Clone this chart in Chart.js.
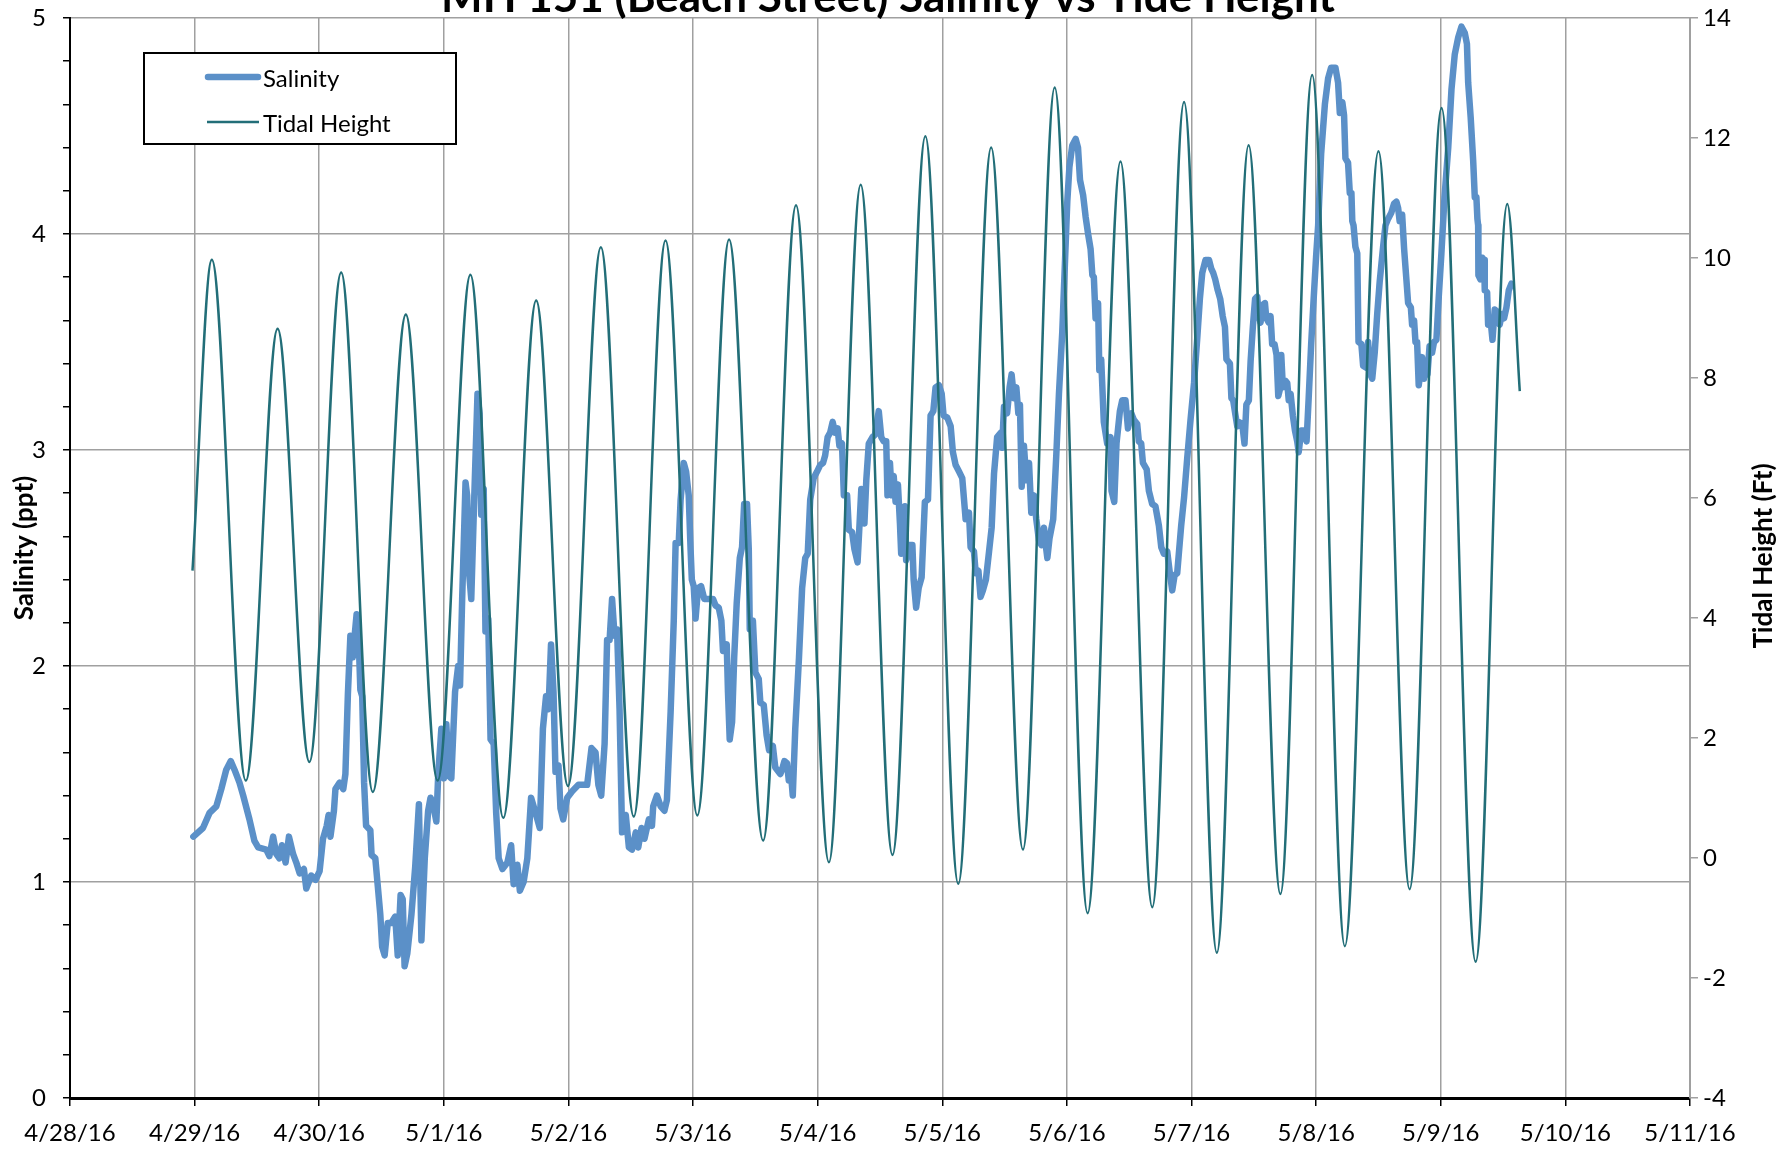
<!DOCTYPE html>
<html>
<head>
<meta charset="utf-8">
<script src="https://cdn.jsdelivr.net/npm/chart.js@4.4.1/dist/chart.umd.min.js"></script>
<style>
  html, body { margin: 0; padding: 0; background: #fff; }
  #wrap { position: absolute; left: 0; top: 0; width: 1779px; height: 1149px; }
</style>
</head>
<body>
<div id="wrap"><canvas id="chart" width="1779" height="1149"></canvas></div>
<script>
// x axis: days since 4/28/16
const dateLabels = ['4/28/16','4/29/16','4/30/16','5/1/16','5/2/16','5/3/16','5/4/16','5/5/16','5/6/16','5/7/16','5/8/16','5/9/16','5/10/16','5/11/16'];

// Salinity (ppt)
const salDays = [0.99,1.067,1.12,1.174,1.214,1.254,1.29,1.32,1.36,1.39,1.44,1.48,1.51,1.575,1.60,1.63,1.655,1.68,1.70,1.73,1.757,1.79,1.816,1.843,1.877,1.896,1.936,1.971,2.003,2.03,2.06,2.075,2.09,2.118,2.13,2.164,2.193,2.21,2.23,2.25,2.27,2.284,2.30,2.318,2.33,2.345,2.36,2.376,2.41,2.42,2.45,2.47,2.49,2.505,2.525,2.55,2.578,2.61,2.63,2.653,2.67,2.685,2.707,2.74,2.77,2.80,2.82,2.847,2.874,2.893,2.91,2.94,2.955,2.98,3.0,3.02,3.04,3.06,3.09,3.115,3.13,3.147,3.174,3.187,3.20,3.22,3.243,3.27,3.286,3.30,3.32,3.334,3.356,3.375,3.40,3.42,3.44,3.47,3.51,3.54,3.56,3.59,3.61,3.64,3.67,3.70,3.736,3.77,3.795,3.82,3.84,3.86,3.88,3.896,3.92,3.936,3.958,3.99,4.03,4.08,4.15,4.185,4.217,4.24,4.263,4.29,4.31,4.33,4.35,4.37,4.39,4.41,4.43,4.46,4.485,4.51,4.54,4.56,4.586,4.61,4.645,4.67,4.68,4.71,4.74,4.77,4.79,4.82,4.845,4.86,4.885,4.90,4.925,4.944,4.965,4.98,4.99,5.005,5.02,5.04,5.064,5.09,5.126,5.16,5.18,5.206,5.227,5.24,5.27,5.28,5.294,5.313,5.33,5.35,5.375,5.393,5.41,5.433,5.447,5.455,5.48,5.50,5.527,5.54,5.567,5.59,5.61,5.64,5.66,5.70,5.714,5.733,5.754,5.768,5.79,5.80,5.82,5.85,5.875,5.90,5.92,5.94,5.968,5.995,6.02,6.043,6.06,6.08,6.10,6.12,6.14,6.16,6.174,6.195,6.21,6.236,6.25,6.276,6.295,6.32,6.337,6.35,6.375,6.39,6.41,6.44,6.46,6.49,6.51,6.53,6.55,6.56,6.58,6.594,6.61,6.625,6.644,6.66,6.67,6.70,6.71,6.73,6.76,6.77,6.79,6.81,6.834,6.86,6.885,6.906,6.928,6.946,6.973,6.995,7.01,7.04,7.067,7.085,7.107,7.134,7.16,7.18,7.187,7.214,7.227,7.254,7.268,7.29,7.307,7.326,7.35,7.375,7.396,7.415,7.44,7.47,7.48,7.495,7.52,7.54,7.556,7.575,7.594,7.61,7.623,7.637,7.655,7.674,7.696,7.714,7.736,7.754,7.776,7.795,7.816,7.83,7.843,7.86,7.89,7.915,7.936,7.963,7.985,8.003,8.02,8.043,8.07,8.089,8.105,8.13,8.15,8.17,8.19,8.204,8.216,8.23,8.25,8.26,8.275,8.296,8.323,8.35,8.358,8.38,8.398,8.425,8.444,8.47,8.49,8.516,8.537,8.564,8.577,8.596,8.61,8.64,8.658,8.684,8.71,8.738,8.757,8.778,8.805,8.826,8.845,8.864,8.885,8.898,8.917,8.94,8.965,8.992,9.02,9.045,9.067,9.086,9.112,9.14,9.158,9.174,9.19,9.21,9.23,9.25,9.268,9.28,9.308,9.32,9.334,9.353,9.367,9.38,9.407,9.425,9.44,9.46,9.474,9.492,9.51,9.527,9.54,9.554,9.567,9.589,9.60,9.62,9.634,9.647,9.666,9.682,9.696,9.709,9.72,9.733,9.754,9.768,9.78,9.795,9.813,9.83,9.848,9.86,9.88,9.90,9.923,9.94,9.96,9.98,10.0,10.016,10.04,10.07,10.096,10.12,10.155,10.176,10.19,10.21,10.224,10.235,10.256,10.27,10.283,10.29,10.30,10.315,10.33,10.34,10.363,10.377,10.403,10.417,10.435,10.45,10.47,10.49,10.51,10.537,10.556,10.577,10.604,10.625,10.644,10.658,10.67,10.69,10.706,10.724,10.738,10.76,10.77,10.786,10.797,10.81,10.823,10.84,10.85,10.866,10.877,10.893,10.91,10.93,10.946,10.965,10.984,11.005,11.03,11.06,11.086,11.112,11.14,11.166,11.193,11.21,11.22,11.24,11.26,11.273,11.286,11.294,11.30,11.302,11.318,11.334,11.348,11.353,11.372,11.38,11.40,11.415,11.433,11.455,11.473,11.49,11.508,11.527,11.546,11.567];
const salValues = [1.21,1.25,1.32,1.35,1.43,1.52,1.56,1.52,1.46,1.40,1.29,1.19,1.16,1.15,1.12,1.21,1.13,1.11,1.17,1.09,1.21,1.13,1.09,1.04,1.06,0.97,1.03,1.01,1.05,1.20,1.26,1.31,1.21,1.33,1.43,1.46,1.43,1.50,1.87,2.14,2.04,2.14,2.24,2.10,1.89,1.86,1.46,1.26,1.24,1.125,1.11,0.98,0.85,0.70,0.66,0.81,0.81,0.84,0.66,0.94,0.92,0.61,0.67,0.85,1.07,1.36,0.73,1.11,1.33,1.39,1.37,1.28,1.50,1.71,1.48,1.73,1.49,1.48,1.88,2.00,1.91,2.31,2.85,2.79,2.45,2.31,2.76,3.26,3.17,2.70,2.82,2.16,2.22,1.66,1.64,1.32,1.11,1.06,1.09,1.17,0.99,1.08,0.96,1.00,1.11,1.39,1.32,1.25,1.71,1.86,1.80,2.10,1.88,1.51,1.54,1.34,1.29,1.39,1.42,1.45,1.45,1.62,1.60,1.45,1.40,1.64,2.12,2.12,2.31,2.14,2.17,1.80,1.23,1.31,1.16,1.15,1.23,1.16,1.25,1.20,1.29,1.26,1.35,1.40,1.35,1.33,1.38,1.79,2.21,2.57,2.57,2.77,2.94,2.90,2.79,2.54,2.40,2.37,2.22,2.36,2.37,2.31,2.31,2.31,2.28,2.27,2.21,2.07,2.10,1.88,1.66,1.74,2.04,2.29,2.50,2.55,2.75,2.75,2.54,2.17,2.21,1.97,1.94,1.83,1.82,1.68,1.61,1.63,1.53,1.50,1.52,1.56,1.55,1.47,1.47,1.40,1.71,2.04,2.36,2.50,2.52,2.77,2.87,2.90,2.93,2.94,2.975,3.06,3.08,3.13,3.08,3.10,3.02,3.03,2.79,2.79,2.63,2.62,2.54,2.48,2.67,2.82,2.66,2.86,3.03,3.06,3.07,3.18,3.06,3.04,3.04,2.79,2.94,2.79,2.88,2.76,2.84,2.66,2.52,2.74,2.49,2.56,2.56,2.40,2.27,2.36,2.41,2.76,2.77,3.16,3.18,3.29,3.30,3.26,3.16,3.15,3.11,2.99,2.93,2.90,2.87,2.73,2.68,2.71,2.55,2.53,2.43,2.44,2.32,2.35,2.40,2.53,2.64,2.89,3.06,3.08,3.01,3.20,3.17,3.29,3.35,3.24,3.29,3.17,3.21,2.83,3.02,2.86,2.94,2.71,2.79,2.68,2.58,2.56,2.64,2.56,2.50,2.59,2.68,2.98,3.26,3.55,3.88,4.15,4.31,4.41,4.44,4.40,4.25,4.18,4.08,4.00,3.93,3.81,3.80,3.61,3.68,3.37,3.42,3.13,3.03,3.06,2.81,2.76,3.03,3.18,3.23,3.23,3.10,3.17,3.14,3.12,3.04,3.03,2.94,2.91,2.81,2.75,2.74,2.65,2.55,2.52,2.53,2.43,2.35,2.42,2.43,2.52,2.65,2.78,2.96,3.14,3.31,3.51,3.70,3.82,3.88,3.88,3.84,3.82,3.79,3.74,3.70,3.62,3.57,3.42,3.40,3.24,3.23,3.16,3.11,3.13,3.12,3.03,3.21,3.23,3.41,3.57,3.70,3.71,3.62,3.59,3.67,3.68,3.61,3.59,3.62,3.49,3.49,3.44,3.25,3.28,3.44,3.29,3.32,3.31,3.23,3.26,3.16,3.09,3.04,2.99,3.09,3.09,3.04,3.24,3.49,3.70,3.90,4.04,4.37,4.60,4.72,4.77,4.77,4.70,4.56,4.61,4.55,4.35,4.33,4.19,4.19,4.06,4.04,3.94,3.91,3.50,3.49,3.39,3.38,3.50,3.35,3.33,3.45,3.63,3.78,3.94,4.04,4.07,4.10,4.14,4.15,4.12,4.06,4.09,3.93,3.79,3.68,3.66,3.58,3.60,3.50,3.50,3.30,3.37,3.43,3.33,3.38,3.35,3.48,3.45,3.50,3.51,3.71,3.91,4.17,4.40,4.67,4.83,4.91,4.96,4.93,4.88,4.70,4.54,4.34,4.17,4.17,4.07,4.04,3.81,3.79,3.89,3.88,3.74,3.73,3.58,3.60,3.51,3.65,3.64,3.58,3.63,3.61,3.66,3.74,3.77];

// Tidal height (ft), highs and lows
const tideDays = [0.983,1.138,1.411,1.666,1.921,2.176,2.43,2.695,2.95,3.213,3.477,3.741,3.996,4.26,4.524,4.779,5.034,5.289,5.562,5.826,6.09,6.345,6.6,6.864,7.128,7.392,7.647,7.902,8.166,8.43,8.685,8.94,9.203,9.458,9.713,9.968,10.23,10.5,10.75,11.006,11.28,11.534,11.634];
const tideValues = [4.79,9.97,1.29,8.82,1.6,9.76,1.1,9.06,1.29,9.72,0.67,9.29,1.2,10.18,0.69,10.29,0.71,10.31,0.29,10.88,-0.07,11.22,0.05,12.03,-0.43,11.84,0.14,12.84,-0.92,11.61,-0.82,12.6,-1.58,11.88,-0.6,13.05,-1.47,11.78,-0.52,12.5,-1.73,10.9,7.78];

const SAL_COLOR = '#5B90C8';
const TIDE_COLOR = '#226E78';
const GRID = '#A0A0A0';
const FONT = 'Lato';

// titre, legende, titres d'axes
const decorPlugin = {
  id: 'decor',
  afterDraw(chart) {
    const ctx = chart.ctx;
    ctx.save();
    // titre (coupe en haut)
    ctx.fillStyle = '#000';
    ctx.font = 'bold 44px ' + FONT;
    ctx.textAlign = 'center';
    ctx.textBaseline = 'alphabetic';
    ctx.fillText('MH 151 (Beach Street) Salinity vs Tide Height', 888, 12);

    // titres d'axes
    ctx.font = 'bold 26px ' + FONT;
    ctx.textBaseline = 'middle';
    ctx.save();
    ctx.translate(25, 548);
    ctx.rotate(-Math.PI / 2);
    ctx.fillText('Salinity (ppt)', 0, 0);
    ctx.restore();
    ctx.save();
    ctx.translate(1764, 556);
    ctx.rotate(-Math.PI / 2);
    ctx.fillText('Tidal Height (Ft)', 0, 0);
    ctx.restore();

    // legende
    ctx.fillStyle = '#fff';
    ctx.fillRect(144, 53, 312, 91);
    ctx.strokeStyle = '#000';
    ctx.lineWidth = 2;
    ctx.strokeRect(144, 53, 312, 91);
    ctx.lineCap = 'round';
    ctx.strokeStyle = SAL_COLOR;
    ctx.lineWidth = 6.5;
    ctx.beginPath(); ctx.moveTo(208, 77); ctx.lineTo(258, 77); ctx.stroke();
    ctx.strokeStyle = TIDE_COLOR;
    ctx.lineWidth = 2.5;
    ctx.lineCap = 'butt';
    ctx.beginPath(); ctx.moveTo(207, 122); ctx.lineTo(259, 122); ctx.stroke();
    ctx.fillStyle = '#000';
    ctx.font = '24px ' + FONT;
    ctx.textAlign = 'left';
    ctx.fillText('Salinity', 263, 79);
    ctx.fillText('Tidal Height', 263, 124);
    ctx.restore();
  }
};

// largeurs d'axes fixes pour caler la zone de trace
function fixWidth(w) {
  return (scale) => {
    scale.width = w;
    scale.paddingTop = 0;
    scale.paddingBottom = 0;
  };
}

const ctx = document.getElementById('chart').getContext('2d');
new Chart(ctx, {
  type: 'line',
  data: {
    datasets: [
      {
        label: 'Salinity',
        data: salDays.map((d, i) => ({ x: d, y: salValues[i] })),
        borderColor: SAL_COLOR,
        backgroundColor: SAL_COLOR,
        borderWidth: 6.5,
        borderJoinStyle: 'round',
        borderCapStyle: 'round',
        pointRadius: 0,
        tension: 0,
        yAxisID: 'y',
        order: 2
      },
      {
        label: 'Tidal Height',
        data: tideDays.map((d, i) => ({ x: d, y: tideValues[i] })),
        borderColor: TIDE_COLOR,
        backgroundColor: TIDE_COLOR,
        borderWidth: 2.5,
        pointRadius: 0,
        cubicInterpolationMode: 'monotone',
        yAxisID: 'y2',
        order: 1
      }
    ]
  },
  options: {
    responsive: false,
    animation: false,
    devicePixelRatio: 1,
    layout: { padding: { top: 18, left: 0, right: 0, bottom: 0 } },
    plugins: {
      legend: { display: false },
      tooltip: { enabled: false },
      title: { display: false }
    },
    scales: {
      x: {
        type: 'linear',
        min: 0,
        max: 13,
        afterFit(scale) { scale.height = 51; scale.paddingLeft = 0; scale.paddingRight = 0; },
        ticks: {
          stepSize: 1,
          autoSkip: false,
          maxRotation: 0,
          padding: 13,
          color: '#000',
          font: { family: FONT, size: 24 },
          callback: (v) => dateLabels[v]
        },
        grid: { color: GRID, lineWidth: 1.5, tickColor: '#000', tickLength: 8 },
        border: { color: '#000', width: 3 }
      },
      y: {
        position: 'left',
        min: 0,
        max: 5,
        afterFit: fixWidth(70),
        ticks: {
          stepSize: 0.2,
          autoSkip: false,
          padding: 17,
          color: '#000',
          font: { family: FONT, size: 24 },
          callback: (v) => Math.abs(v - Math.round(v)) < 1e-6 ? String(Math.round(v)) : ''
        },
        grid: {
          color: (c) => Math.abs(c.tick.value - Math.round(c.tick.value)) < 1e-6 ? GRID : 'rgba(0,0,0,0)',
          lineWidth: 1.5,
          tickColor: '#000',
          tickLength: 7
        },
        border: { color: '#000', width: 2 }
      },
      y2: {
        position: 'right',
        min: -4,
        max: 14,
        afterFit: fixWidth(89),
        ticks: {
          stepSize: 2,
          padding: 5,
          color: '#000',
          font: { family: FONT, size: 24 }
        },
        grid: { drawOnChartArea: false, color: GRID, tickColor: GRID, tickLength: 8, lineWidth: 1.5 },
        border: { color: GRID, width: 2 }
      }
    }
  },
  plugins: [decorPlugin]
});
</script>
</body>
</html>
